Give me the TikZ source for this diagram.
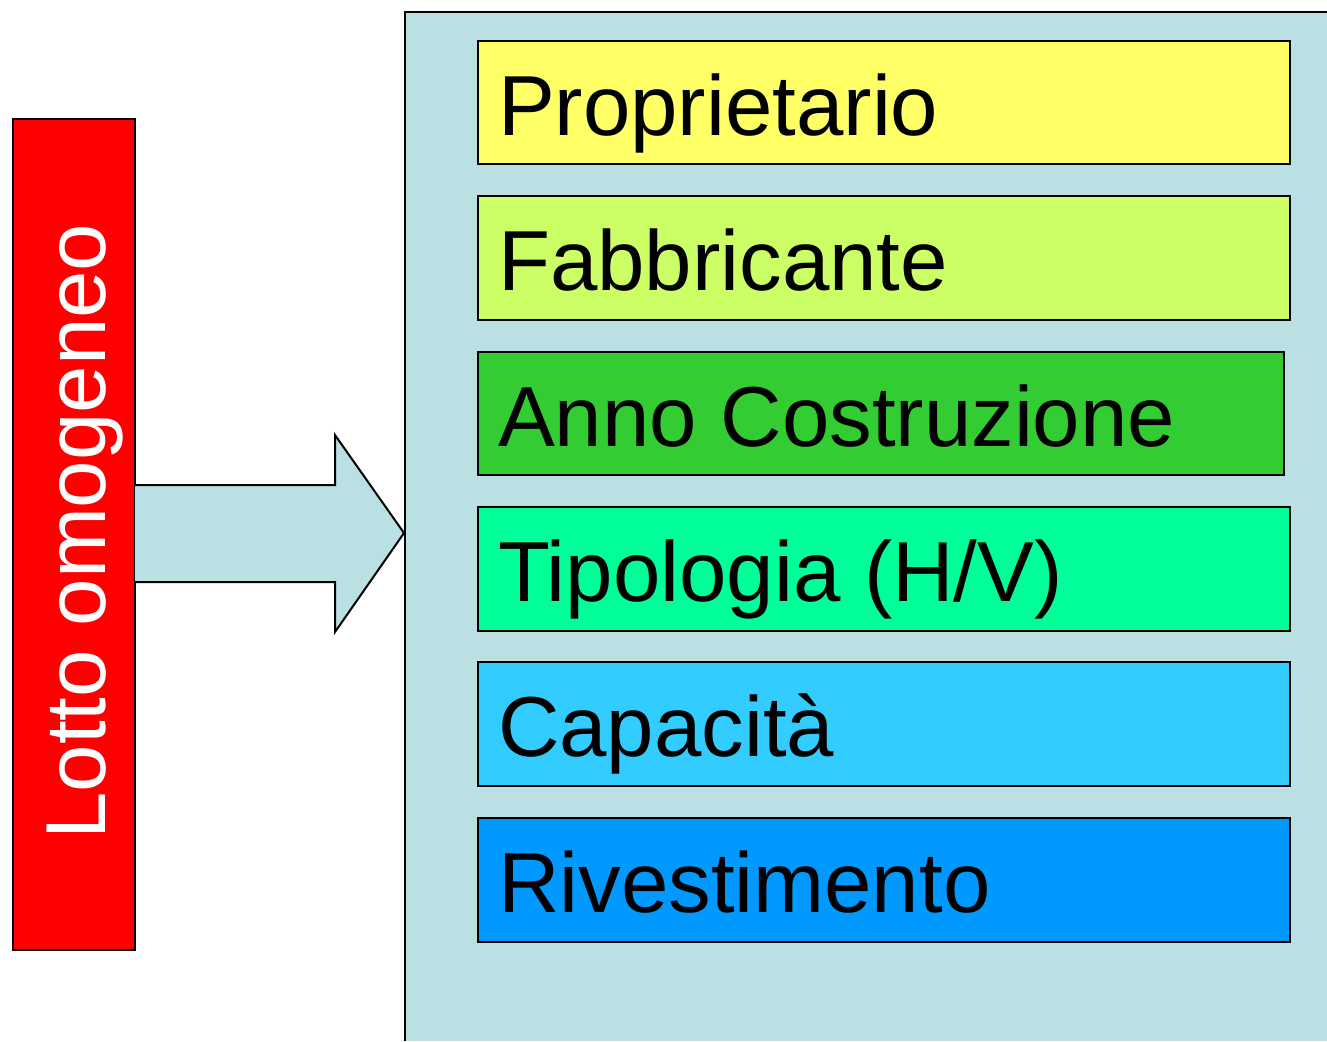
\documentclass[tikz,border=0pt]{standalone}
\usepackage{fontspec}
\setmainfont{Liberation Sans}
\definecolor{panel}{HTML}{BBE0E3}
\definecolor{c1}{HTML}{FFFF66}
\definecolor{c2}{HTML}{CCFF66}
\definecolor{c3}{HTML}{33CC33}
\definecolor{c4}{HTML}{00FF99}
\definecolor{c5}{HTML}{33CCFF}
\definecolor{c6}{HTML}{0099FF}
\begin{document}
\begin{tikzpicture}[x=0.5pt,y=-0.5pt,line width=1pt,
  itembox/.style={draw=black,line width=1pt},
  itemtext/.style={anchor=base west,inner sep=0pt,font=\fontsize{42.6}{50}\selectfont,text=black}]
\useasboundingbox (0,0) rectangle (1327,1041);
% panel
\fill[panel] (405,12) rectangle (1327,1041);
\draw (1327,12) -- (405,12) -- (405,1041);
% red box
\node[draw=black,fill=red,line width=1pt,minimum width=61pt,minimum height=415.5pt,inner sep=0pt,anchor=north west] (lotto) at (12,118) {};
\node[rotate=90,anchor=base,inner sep=0pt,text=white,font=\fontsize{42.6}{50}\selectfont] (lottotext) at (105,531.5) {Lotto omogeneo};
% arrow
\draw[fill=panel,line join=miter] (135,485) -- (335,485) -- (335,435) -- (404,533) -- (335,632) -- (335,582) -- (135,582);
% items
\draw[itembox,fill=c1] (478,41) rectangle (1290,164) node[pos=0.5] (b1) {};
\draw[itembox,fill=c2] (478,196) rectangle (1290,320) node[pos=0.5] (b2) {};
\draw[itembox,fill=c3] (478,352) rectangle (1284,475) node[pos=0.5] (b3) {};
\draw[itembox,fill=c4] (478,507) rectangle (1290,631) node[pos=0.5] (b4) {};
\draw[itembox,fill=c5] (478,662) rectangle (1290,786) node[pos=0.5] (b5) {};
\draw[itembox,fill=c6] (478,818) rectangle (1290,942) node[pos=0.5] (b6) {};
\node[itemtext] (t1) at (497,135) {Proprietario};
\node[itemtext] (t2) at (497,290) {Fabbricante};
\node[itemtext] (t3) at (497,446) {Anno Costruzione};
\node[itemtext] (t4) at (497,601) {Tipologia (H/V)};
\node[itemtext] (t5) at (497,756) {Capacità};
\node[itemtext] (t6) at (497,912) {Rivestimento};
\end{tikzpicture}
\end{document}
